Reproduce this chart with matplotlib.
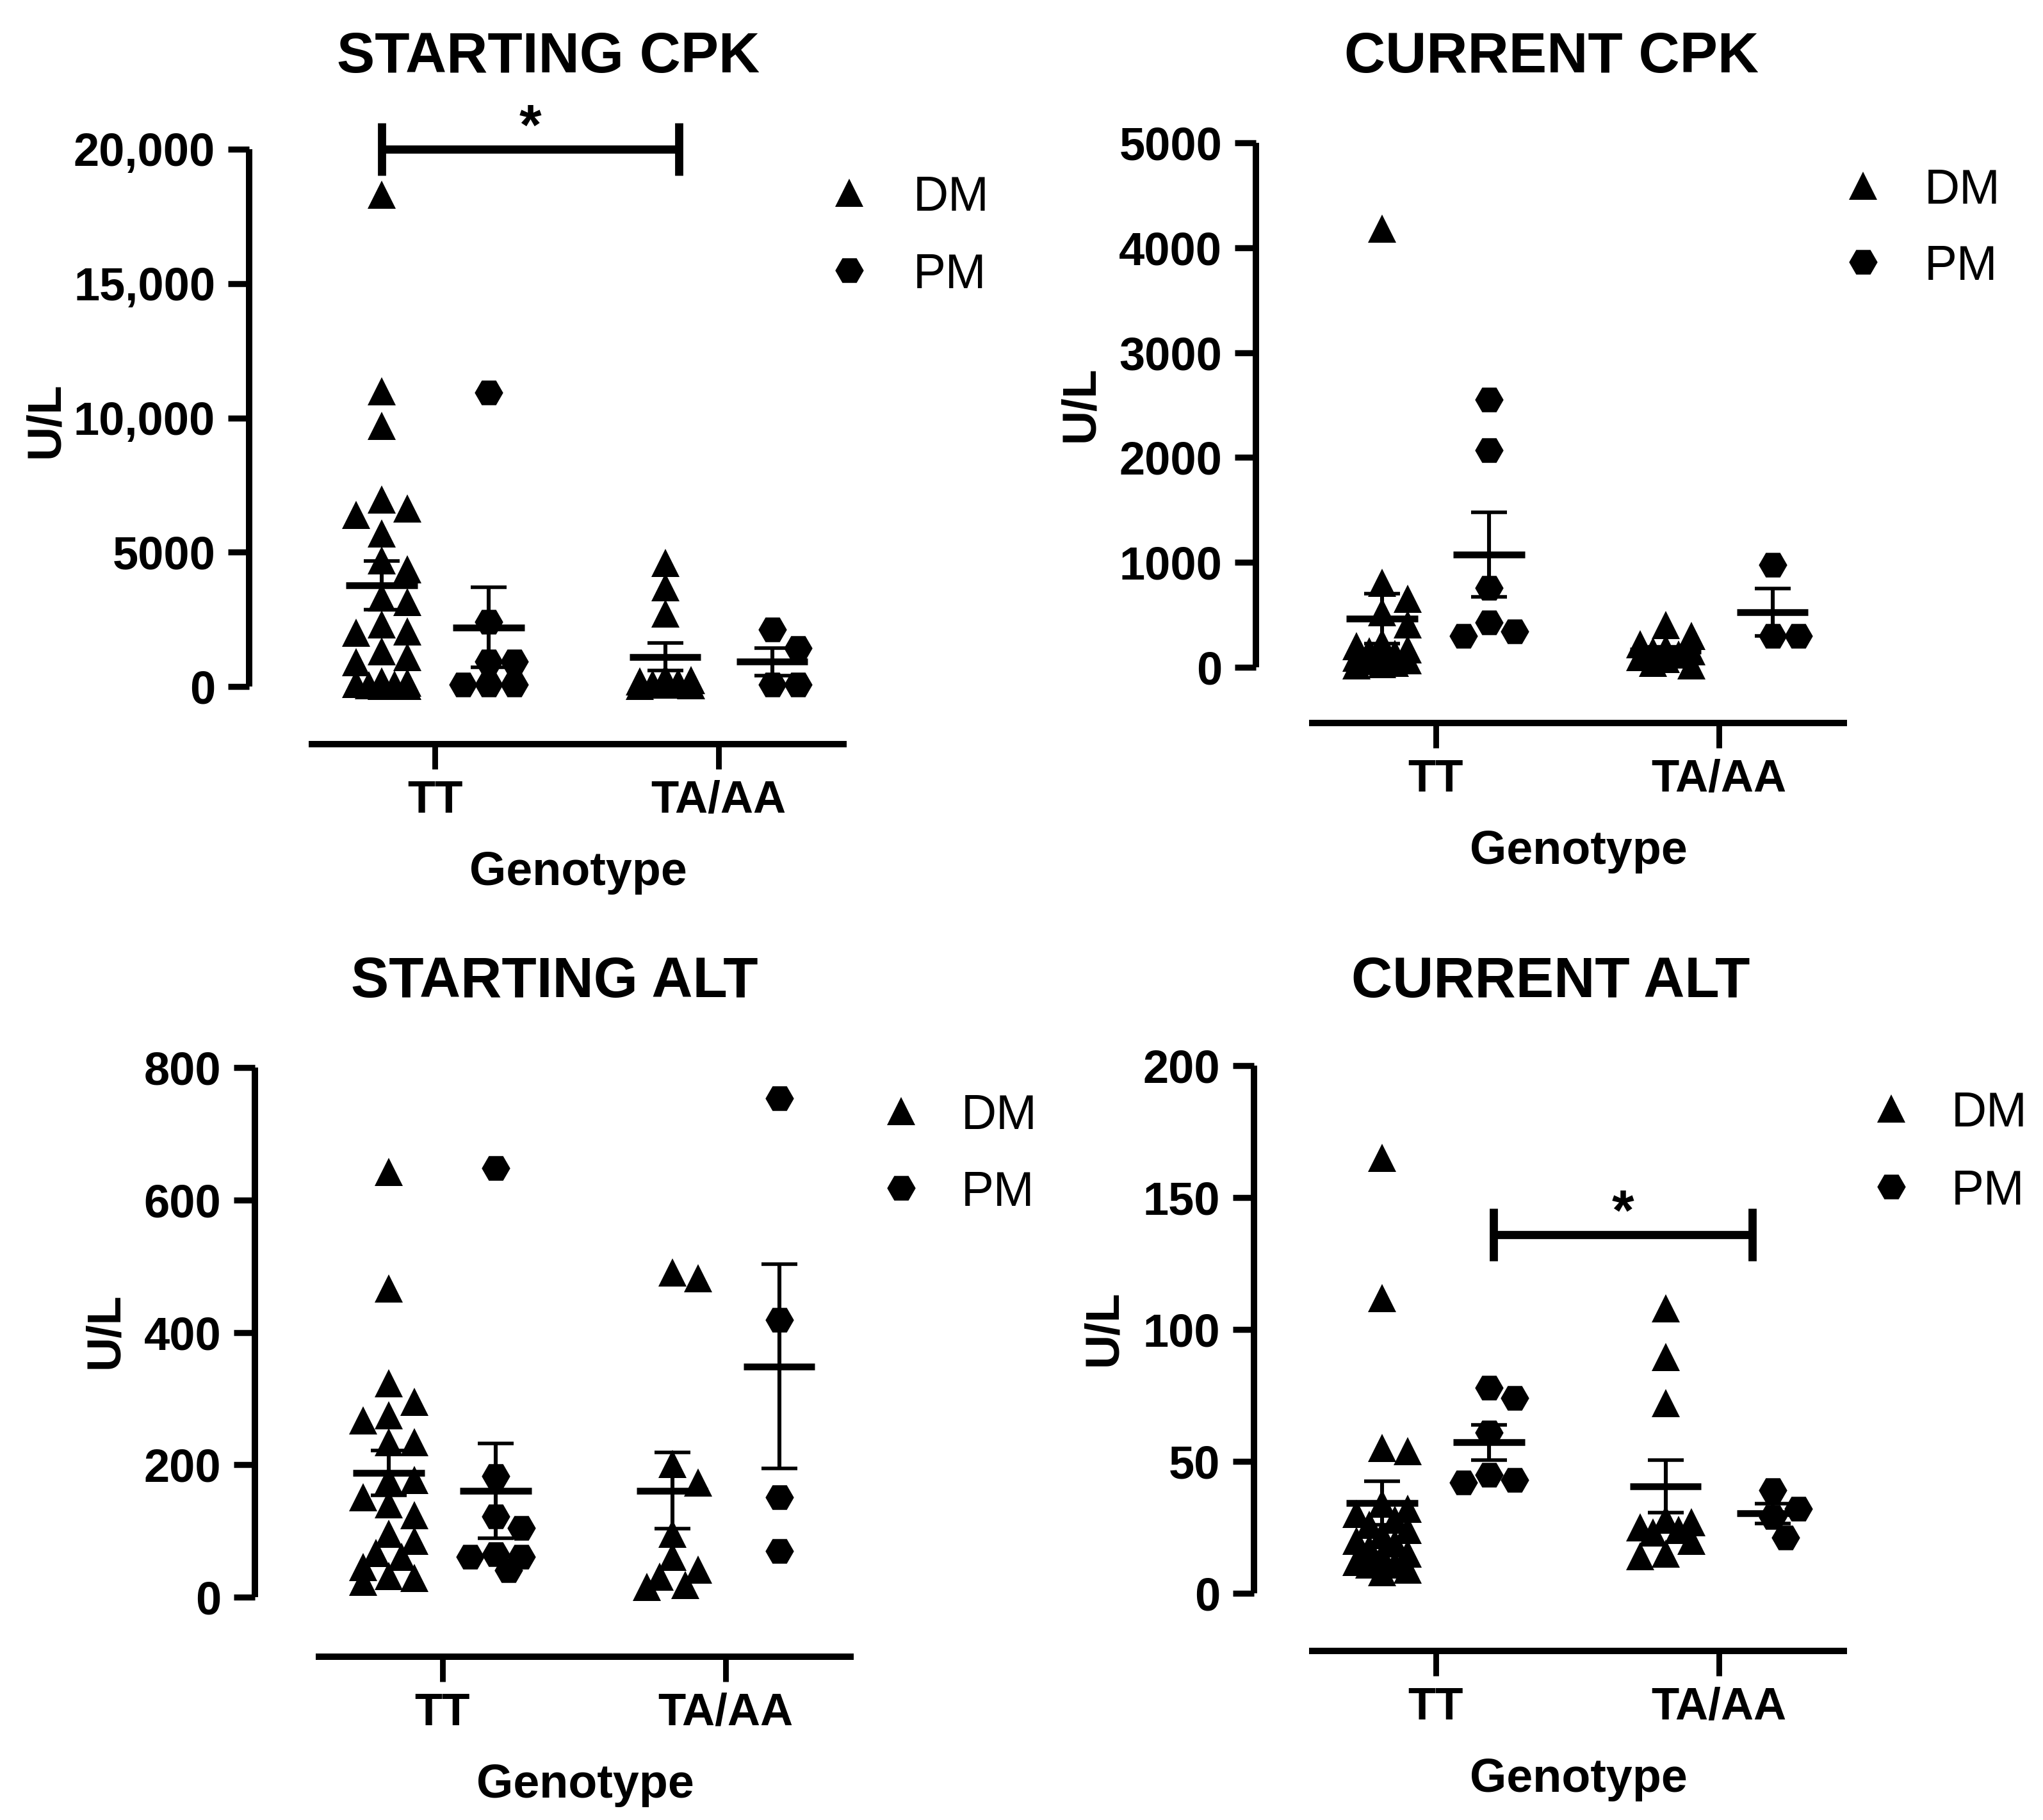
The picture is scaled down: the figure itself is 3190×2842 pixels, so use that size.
import numpy as np
import matplotlib
matplotlib.use("Agg")
import matplotlib.pyplot as plt

plt.rcParams['font.family'] = ['Liberation Sans', 'DejaVu Sans']

W, H, DPI = 3190, 2842, 200

genotypes = ["TT", "TA/AA"]
series = ["DM", "PM"]

# values (U/L)
start_cpk_dm_tt = [18300, 11000, 9700, 6950, 6630, 6400, 5690, 4700, 4370, 3320, 3140,
                   2310, 2060, 2000, 1300, 1100, 900, 200, 150, 100, 80, 50, 30, 20]
start_cpk_pm_tt = [10950, 2400, 930, 930, 60, 60, 60]
start_cpk_dm_ta = [4600, 3700, 2720, 300, 250, 200, 150, 100, 80, 50, 30]
start_cpk_pm_ta = [2130, 1430, 60, 60]

cur_cpk_dm_tt = [4180, 805, 656, 526, 407, 230, 200, 170, 150, 130, 110, 90, 70, 60, 40, 30, 20]
cur_cpk_pm_tt = [2550, 2070, 755, 427, 341, 297]
cur_cpk_dm_ta = [400, 300, 220, 180, 150, 150, 120, 100, 80, 40, 20]
cur_cpk_pm_ta = [974, 297, 297]

start_alt_dm_tt = [642, 466, 323, 295, 275, 267, 234, 234, 177, 177, 151, 140, 124, 96, 85,
                   67, 61, 45, 32, 29, 23]
start_alt_pm_tt = [648, 183, 122, 104, 65, 61, 61, 41]
start_alt_dm_ta = [490, 482, 201, 173, 96, 61, 42, 31, 18, 15]
start_alt_pm_ta = [754, 419, 151, 70]

cur_alt_dm_tt = [165, 112, 55, 54, 34, 32, 30, 28, 26, 24, 22, 20, 19, 17, 15, 14, 12, 11, 11, 9, 8]
cur_alt_pm_tt = [78, 74, 61, 45, 43, 42]
cur_alt_dm_ta = [108, 89.5, 72, 28, 27, 25, 24, 23, 20, 15, 14]
cur_alt_pm_ta = [39, 32, 29, 21]

cpk_ticks_start = [0, 5000, 10000, 15000, 20000]
cpk_labels_start = ["0", "5000", "10,000", "15,000", "20,000"]
cpk_ticks_cur = [0, 1000, 2000, 3000, 4000, 5000]
alt_ticks_start = [0, 200, 400, 600, 800]
alt_ticks_cur = [0, 50, 100, 150, 200]

# layout (pixel positions in the 3190x2842 picture)
UNIT = 167.0
X_POS = [0.0, 1.0, 2.65, 3.65]      # DM-TT, PM-TT, DM-TA, PM-TA
X_TICKS = [0.5, 3.15]
X_LINE = (-0.68, 4.35)
MARKERS = ['^', 'H', '^', 'H']
MS = 16
MARKER_PX = 36

panels = [
    dict(title="STARTING CPK", spine=389, dm=596, zero=1072, top=233, line=1162,
         ymax=20000, yticks=cpk_ticks_start, ylabels=cpk_labels_start,
         data=[start_cpk_dm_tt, start_cpk_pm_tt, start_cpk_dm_ta, start_cpk_pm_ta],
         title_y=113, ylab=(72, 656), leg=(1326, 301, 422, 1426), sig=(0.0, 2.78, 20000)),
    dict(title="CURRENT CPK", spine=1961, dm=2158, zero=1042, top=223, line=1129,
         ymax=5000, yticks=cpk_ticks_cur, ylabels=[str(t) for t in cpk_ticks_cur],
         data=[cur_cpk_dm_tt, cur_cpk_pm_tt, cur_cpk_dm_ta, cur_cpk_pm_ta],
         title_y=113, ylab=(1688, 631), leg=(2909, 290, 409, 3005), sig=None),
    dict(title="STARTING ALT", spine=398, dm=607, zero=2494, top=1667, line=2587,
         ymax=800, yticks=alt_ticks_start, ylabels=[str(t) for t in alt_ticks_start],
         data=[start_alt_dm_tt, start_alt_pm_tt, start_alt_dm_ta, start_alt_pm_ta],
         title_y=1557, ylab=(165, 2078), leg=(1407, 1735, 1855, 1501), sig=None),
    dict(title="CURRENT ALT", spine=1958, dm=2158, zero=2488, top=1664, line=2578,
         ymax=200, yticks=alt_ticks_cur, ylabels=[str(t) for t in alt_ticks_cur],
         data=[cur_alt_dm_tt, cur_alt_pm_tt, cur_alt_dm_ta, cur_alt_pm_ta],
         title_y=1557, ylab=(1724, 2074), leg=(2953, 1731, 1853, 3047), sig=(1.04, 3.46, 136)),
]


def fx(x):
    return x / W


def fy(y):
    return 1 - y / H


def swarm(vals, px_per_val, size_px, max_px):
    vals = np.asarray(vals, float)
    ys = vals * px_per_val
    step = 20.0
    offs = np.zeros(len(vals))
    px, py = [], []
    for i in np.argsort(-vals, kind="stable"):
        best, best_d = 0.0, -1.0
        for k in [0, 1, -1, 2, -2]:
            c = k * step
            if abs(c) > max_px:
                continue
            d = np.min(np.hypot(np.array(px) - c, np.array(py) - ys[i])) if px else np.inf
            if d >= size_px:
                best = c
                break
            if d > best_d:
                best, best_d = c, d
        offs[i] = best
        px.append(best)
        py.append(ys[i])
    return offs / UNIT


fig = plt.figure(figsize=(W / DPI, H / DPI), dpi=DPI)

for p in panels:
    right = p['dm'] + X_LINE[1] * UNIT
    ppv = (p['zero'] - p['top']) / p['ymax']
    ax = fig.add_axes([fx(p['spine']), fy(p['line']),
                       fx(right - p['spine']), (p['line'] - p['top']) / H])
    ax.set_xlim((p['spine'] - p['dm']) / UNIT, X_LINE[1])
    ax.set_ylim(-(p['line'] - p['zero']) / ppv, p['ymax'])
    for s in ['top', 'right']:
        ax.spines[s].set_visible(False)
    ax.spines['left'].set_bounds(0, p['ymax'])
    ax.spines['bottom'].set_bounds(*X_LINE)
    for s in ['left', 'bottom']:
        ax.spines[s].set_linewidth(3.6)
        ax.spines[s].set_capstyle('butt')
    ax.patch.set_visible(False)

    ax.set_yticks(p['yticks'])
    ax.set_yticklabels(p['ylabels'], fontsize=26, fontweight='bold')
    ax.set_xticks(X_TICKS)
    ax.set_xticklabels(genotypes, fontsize=25.5, fontweight='bold')
    ax.tick_params(axis='y', length=12, width=3.4, pad=7)
    ax.tick_params(axis='x', length=14, width=3.2, pad=6)

    for xi, vals, mk in zip(X_POS, p['data'], MARKERS):
        v = np.asarray(vals, float)
        xs = xi + swarm(v, ppv, MARKER_PX, 40)
        ax.plot(xs, v, linestyle='none', marker=mk, ms=MS, mew=0, color='black',
                zorder=3, clip_on=False)
        m = v.mean()
        sem = v.std(ddof=1) / np.sqrt(len(v))
        ax.plot([xi - 0.335, xi + 0.335], [m, m], color='black', lw=3.8,
                solid_capstyle='butt', zorder=4)
        ax.errorbar([xi], [m], yerr=[sem], fmt='none', ecolor='black', elinewidth=2.2,
                    capsize=10, capthick=2.0, zorder=4)

    if p['sig'] is not None:
        x0, x1, ys = p['sig']
        h = 41 / ppv
        kw = dict(color='black', lw=4.6, solid_capstyle='butt', clip_on=False, zorder=5)
        ax.plot([x0, x1], [ys, ys], **kw)
        ax.plot([x0, x0], [ys - h, ys + h], **kw)
        ax.plot([x1, x1], [ys - h, ys + h], **kw)
        ax.annotate('*', xy=((x0 + x1) / 2, ys), xytext=(0, 3), textcoords='offset points',
                    ha='center', va='baseline', fontsize=32, fontweight='bold')

    # titles and axis labels
    fig.text(fx((p['spine'] + right) / 2), fy(p['title_y']), p['title'], ha='center',
             va='baseline', fontsize=32, fontweight='bold')
    fig.text(fx(p['ylab'][0]), fy(p['ylab'][1]), "U/L", rotation=90, ha='center',
             va='center', fontsize=26.5, fontweight='bold')
    line_mid = p['dm'] + (X_LINE[0] + X_LINE[1]) / 2 * UNIT
    fig.text(fx(line_mid), fy(p['line'] + 220), "Genotype", ha='center', va='baseline',
             fontsize=26.5, fontweight='bold')

    # legend
    mx, y1, y2, tx = p['leg']
    for yy, mk, lab in [(y1, '^', series[0]), (y2, 'H', series[1])]:
        fig.lines.append(plt.Line2D([fx(mx)], [fy(yy)], transform=fig.transFigure,
                                    marker=mk, ms=MS, mew=0, color='black', linestyle='none'))
        fig.text(fx(tx), fy(yy + 28), lab, ha='left', va='baseline', fontsize=27.5)

fig.savefig("out.png", dpi=DPI)
